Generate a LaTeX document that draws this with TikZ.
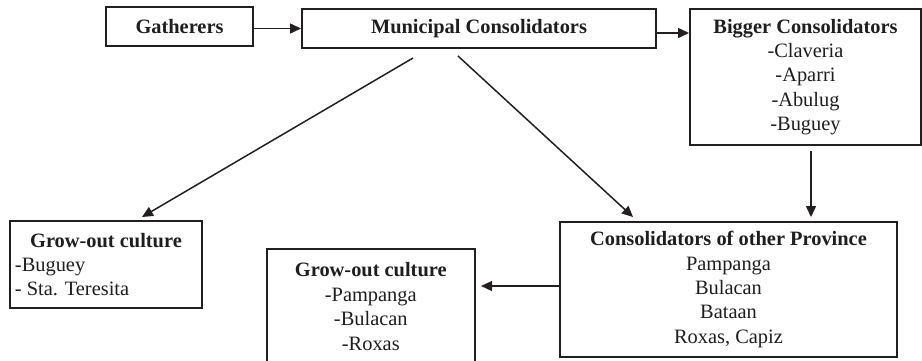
\documentclass[tikz,border=0pt]{standalone}
\usepackage{fontspec}
\setmainfont{Liberation Serif}
\usepackage{tikz}
\usetikzlibrary{arrows.meta,positioning,calc}
\definecolor{fcedge}{RGB}{35,31,32}
\definecolor{fcink}{RGB}{30,30,30}
\newcommand{\leftitem}[1]{\makebox[93pt][l]{\hspace{1pt}#1}}
\tikzset{
  fcbox/.style={
    draw=fcedge, line width=1pt, align=center, inner sep=1.5pt,
    text=fcink, font=\fontsize{10.2}{12.2}\selectfont
  },
  arr/.style={-{Triangle[length=5.5pt,width=5pt]}, draw=fcedge, line width=0.75pt},
  every picture/.append style={line join=miter}
}
\begin{document}
\begin{tikzpicture}[x=0.5pt,y=-0.5pt]
  \useasboundingbox (0,0) rectangle (922,360);
  % top row
  \node[fcbox, minimum width=73.5pt, minimum height=19.5pt] (gath) at (179.5,26.5)
    {\textbf{Gatherers}};
  \node[fcbox, minimum width=177pt, minimum height=19.5pt] (muni) at (479,28.5)
    {\textbf{Municipal Consolidators}};
  \node[fcbox, minimum width=115.5pt, minimum height=68pt] (bigger) at (805.5,77)
    {\textbf{Bigger Consolidators}\\-Claveria\\-Aparri\\-Abulug\\-Buguey};
  % bottom row
  \node[fcbox, minimum width=96pt, minimum height=43.5pt] (grow1) at (106,264.5)
    {\textbf{Grow-out culture}\\\leftitem{-Buguey}\\\leftitem{- Sta. Teresita}};
  \node[fcbox, minimum width=104.25pt, minimum height=57.5pt] (grow2) at (370.8,306.5)
    {\textbf{Grow-out culture}\\-Pampanga\\-Bulacan\\-Roxas};
  \node[fcbox, minimum width=168.5pt, minimum height=67.5pt] (consol) at (728.5,289.5)
    {\textbf{Consolidators of other Province}\\Pampanga\\Bulacan\\Bataan\\Roxas, Capiz};
  % flows
  \draw[arr] (gath.east |- muni) -- (muni.west);
  \draw[arr] ($(muni.east)+(0,4.5)$) -- ($(muni.east -| bigger.west)+(0,4.5)$);
  \draw[arr] ($(muni.south)+(-66,9)$) -- ($(grow1.north)+(36,-3)$);
  \draw[arr] ($(muni.south)+(-21,7)$) -- ($(consol.north)+(-95.5,-4)$);
  \draw[arr] ($(bigger.south)+(5.5,5)$) -- ($(consol.north)+(82.5,-4)$);
  \draw[arr] ($(consol.west)+(0,-3.5)$) -- ($(consol.west -| grow2.east)+(5,-3.5)$);
\end{tikzpicture}
\end{document}
